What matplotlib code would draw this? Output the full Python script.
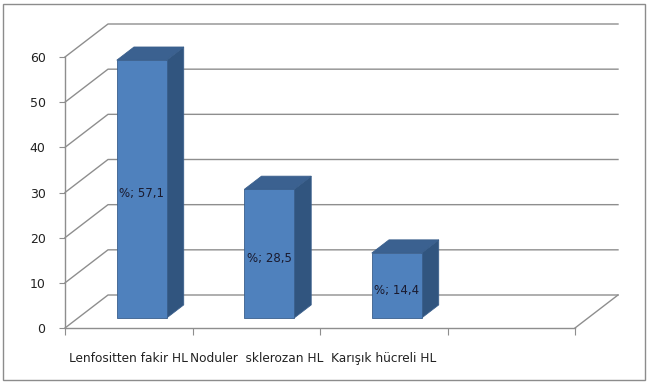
import matplotlib
matplotlib.use("Agg")
import matplotlib.pyplot as plt
from matplotlib.patches import Polygon, Rectangle

categories = ["Lenfositten fakir HL", "Noduler  sklerozan HL", "Karışık hücreli HL", ""]
values = [57.1, 28.5, 14.4]
labels = ["%; 57,1", "%; 28,5", "%; 14,4"]
yticks = [0, 10, 20, 30, 40, 50, 60]

W, H, DPI = 647, 384, 100
fig = plt.figure(figsize=(W / DPI, H / DPI), dpi=DPI)
fig.patch.set_facecolor("white")

# front plane of the 3-D box (pixel placement of the axes)
left_px, right_px, top_px, bot_px = 65, 575, 57, 328
ax = fig.add_axes([left_px / W, (H - bot_px) / H,
                   (right_px - left_px) / W, (bot_px - top_px) / H])
xmin, xmax = -0.5, len(categories) - 0.5
ymin, ymax = 0, 60
ax.set_xlim(xmin, xmax)
ax.set_ylim(ymin, ymax)
ax.set_facecolor("none")

# depth of the box expressed in data units
depth_px_x, depth_px_y = 43, 33
ppx = (right_px - left_px) / (xmax - xmin)
ppy = (bot_px - top_px) / (ymax - ymin)
dx, dy = depth_px_x / ppx, depth_px_y / ppy

grid_c = "#8e8e8e"
for t in yticks:
    ax.plot([xmin, xmin + dx, xmax + dx], [t, t + dy, t + dy],
            color=grid_c, lw=1.0, clip_on=False, zorder=1)
ax.plot([xmax, xmax + dx], [0, dy], color=grid_c, lw=1.0, clip_on=False, zorder=1)

# bars: front face, top and right side
front_c, top_c, side_c, edge_c = "#4F81BD", "#3B6190", "#31557F", "#3A5F8C"
bw = 0.39
f0, f1 = 0.30, 0.70  # depth fractions of the bar front and back
for i, v in enumerate(values):
    x0 = i - bw / 2 + f0 * dx
    x1 = i + bw / 2 + f0 * dx
    y0 = f0 * dy
    ddx, ddy = (f1 - f0) * dx, (f1 - f0) * dy
    side = Polygon([(x1, y0), (x1 + ddx, y0 + ddy), (x1 + ddx, y0 + v + ddy), (x1, y0 + v)],
                   closed=True, facecolor=side_c, edgecolor=edge_c, lw=0.6,
                   clip_on=False, zorder=3)
    top = Polygon([(x0, y0 + v), (x1, y0 + v), (x1 + ddx, y0 + v + ddy), (x0 + ddx, y0 + v + ddy)],
                  closed=True, facecolor=top_c, edgecolor=edge_c, lw=0.6,
                  clip_on=False, zorder=3)
    ax.add_patch(side)
    ax.add_patch(top)
    ax.bar(i + f0 * dx, v, width=bw, bottom=y0, color=front_c, edgecolor=edge_c,
           lw=0.6, clip_on=False, zorder=4)
    ax.text(i + f0 * dx, y0 + v / 2 - 1.0, labels[i], ha="center", va="center",
            fontsize=8.5, color="#1a1a2e", family="DejaVu Sans", zorder=5)

# axes lines and ticks
for s in ("top", "right"):
    ax.spines[s].set_visible(False)
for s in ("left", "bottom"):
    ax.spines[s].set_color(grid_c)
    ax.spines[s].set_linewidth(1.0)
    ax.spines[s].set_zorder(2)

ax.set_yticks(yticks)
ax.set_yticklabels([str(t) for t in yticks])
ax.tick_params(axis="y", direction="out", length=4, color=grid_c,
               labelsize=9, labelcolor="#222222", pad=10)

bounds = [k - 0.5 for k in range(len(categories) + 1)]
ax.set_xticks(bounds)
ax.set_xticklabels([""] * len(bounds))
ax.tick_params(axis="x", which="major", direction="out", length=5, color=grid_c)
ax.set_xticks(range(len(categories)), minor=True)
ax.set_xticklabels(categories, minor=True)
ax.tick_params(axis="x", which="minor", length=0, labelsize=8.7,
               labelcolor="#222222", pad=17)

# outer chart border
fig.add_artist(Rectangle((3 / W, 4 / H), 642 / W, 376 / H, transform=fig.transFigure,
                         fill=False, edgecolor="#8c8c8c", lw=1.0))

fig.savefig("out.png", dpi=DPI)
